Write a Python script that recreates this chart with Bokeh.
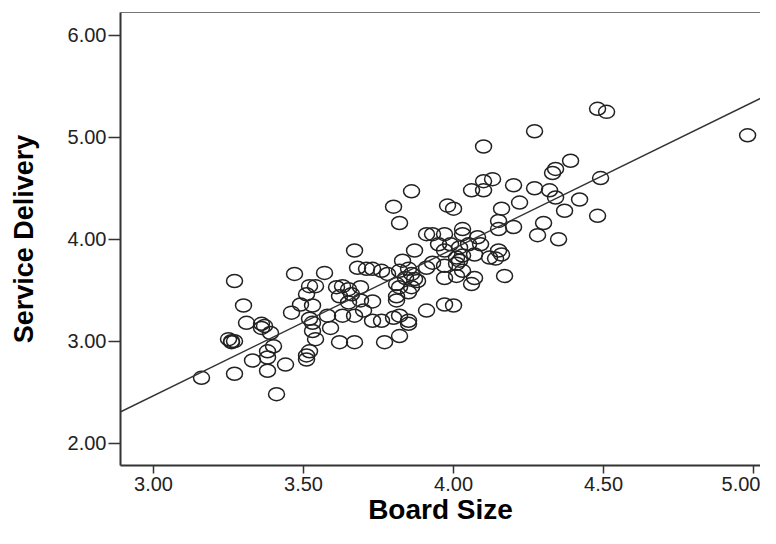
from bokeh.plotting import figure
from bokeh.models import Range1d, Slope, LinearAxis, FixedTicker, NumeralTickFormatter, ColumnDataSource
from bokeh.embed import file_html
from bokeh.resources import INLINE

board_size = [
    3.16, 3.27, 3.30, 3.31, 3.25, 3.26, 3.26, 3.27, 3.27, 3.33,
    3.36, 3.37, 3.36, 3.39, 3.40, 3.38, 3.38, 3.38, 3.41, 3.44,
    3.47, 3.46, 3.49, 3.51, 3.52, 3.54, 3.53, 3.52, 3.53, 3.53,
    3.54, 3.52, 3.51, 3.51, 3.57, 3.61, 3.63, 3.65, 3.69, 3.62,
    3.66, 3.65, 3.69, 3.73, 3.58, 3.63, 3.67, 3.70, 3.73, 3.76,
    3.80, 3.82, 3.85, 3.85, 3.62, 3.67, 3.77, 3.82, 3.67, 3.68,
    3.71, 3.73, 3.76, 3.78, 3.82, 3.85, 3.86, 3.84, 3.87, 3.81,
    3.82, 3.86, 3.88, 3.81, 3.85, 3.81, 3.91, 3.86, 3.80, 3.82,
    3.91, 3.87, 3.91, 3.59, 4.10, 4.06, 4.10, 4.10, 4.13, 4.20,
    4.22, 3.98, 4.00, 4.16, 4.15, 4.15, 4.20, 3.93, 3.97, 4.03,
    4.03, 4.08, 4.09, 3.95, 3.99, 4.02, 4.05, 4.01, 4.02, 4.03,
    4.01, 4.15, 4.16, 4.14, 4.12, 4.07, 3.93, 3.97, 3.97, 4.01,
    4.07, 4.06, 4.17, 3.97, 4.03, 3.83, 4.48, 4.51, 4.27, 4.39,
    4.34, 4.33, 4.49, 4.27, 4.32, 4.34, 4.42, 4.37, 4.48, 4.30,
    4.28, 4.35, 4.98, 3.97, 4.00,
]
service_delivery = [
    2.64, 3.59, 3.35, 3.18, 3.02, 3.00, 2.99, 3.00, 2.68, 2.81,
    3.17, 3.15, 3.13, 3.08, 2.95, 2.90, 2.84, 2.71, 2.48, 2.77,
    3.66, 3.28, 3.36, 3.46, 3.54, 3.54, 3.35, 3.22, 3.18, 3.10,
    3.02, 2.90, 2.86, 2.82, 3.67, 3.53, 3.54, 3.51, 3.53, 3.44,
    3.46, 3.38, 3.40, 3.39, 3.25, 3.25, 3.25, 3.30, 3.20, 3.20,
    3.23, 3.25, 3.20, 3.17, 2.99, 2.99, 2.99, 3.05, 3.89, 3.72,
    3.71, 3.71, 3.69, 3.66, 3.69, 3.71, 3.66, 3.62, 3.61, 3.56,
    3.53, 3.53, 3.59, 3.44, 3.48, 3.40, 3.30, 4.47, 4.32, 4.16,
    4.05, 3.89, 3.72, 3.13, 4.91, 4.48, 4.48, 4.57, 4.59, 4.53,
    4.36, 4.33, 4.30, 4.30, 4.18, 4.10, 4.12, 4.05, 4.05, 4.10,
    4.05, 4.02, 3.95, 3.95, 3.95, 3.92, 3.95, 3.82, 3.79, 3.84,
    3.76, 3.89, 3.85, 3.81, 3.82, 3.85, 3.77, 3.74, 3.62, 3.64,
    3.62, 3.56, 3.64, 3.89, 3.69, 3.79, 5.28, 5.25, 5.06, 4.77,
    4.69, 4.65, 4.60, 4.50, 4.48, 4.41, 4.39, 4.28, 4.23, 4.16,
    4.04, 4.00, 5.02, 3.36, 3.35,
]
x_ticks = [3.0, 3.5, 4.0, 4.5, 5.0]
y_ticks = [2.0, 3.0, 4.0, 5.0, 6.0]
fit_slope = 1.442
fit_intercept = -1.861

src = ColumnDataSource(data=dict(x=board_size, y=service_delivery))

p = figure(width=760, height=528,
           x_range=Range1d(2.89, 5.023), y_range=Range1d(1.78, 6.225),
           output_backend="svg", toolbar_location=None,
           min_border_left=120, min_border_right=0, min_border_top=12, min_border_bottom=63,
           x_axis_label="Board Size", y_axis_label="Service Delivery")
p.grid.visible = False
p.outline_line_color = None
p.background_fill_color = "white"
p.border_fill_color = "white"

for ax in [p.xaxis[0], p.yaxis[0]]:
    ax.formatter = NumeralTickFormatter(format="0.00")
    ax.minor_tick_line_color = None
    ax.major_tick_in = 0
    ax.axis_line_color = "#333333"
    ax.axis_line_width = 2
    ax.major_tick_line_color = "#333333"
    ax.major_tick_line_width = 1.5
    ax.major_label_text_font = "Liberation Sans"
    ax.major_label_text_font_size = "20px"
    ax.major_label_text_color = "#222222"
    ax.axis_label_text_font = "Liberation Sans"
    ax.axis_label_text_font_style = "bold"
    ax.axis_label_text_color = "#000000"

p.xaxis.ticker = FixedTicker(ticks=x_ticks)
p.yaxis.ticker = FixedTicker(ticks=y_ticks)
p.xaxis.major_tick_out = 8
p.yaxis.major_tick_out = 12
p.xaxis.major_label_standoff = 3
p.yaxis.major_label_standoff = 2
p.xaxis.axis_label_text_font_size = "28px"
p.yaxis.axis_label_text_font_size = "27px"
p.xaxis.axis_label_standoff = 0
p.yaxis.axis_label_standoff = 26

top = LinearAxis(ticker=FixedTicker(ticks=[]), axis_line_color="#777777", axis_line_width=1,
                 major_tick_out=0, major_tick_in=0, minor_tick_out=0, minor_tick_in=0,
                 major_label_standoff=0)
p.add_layout(top, "above")

p.add_layout(Slope(gradient=fit_slope, y_intercept=fit_intercept,
                   line_color="#333333", line_width=1.4))

p.ellipse(x="x", y="y", width=16, height=13, width_units="screen", height_units="screen",
          fill_color=None, line_color="#222222", line_width=1.5, source=src)

open("out.html", "w").write(file_html(p, INLINE))
